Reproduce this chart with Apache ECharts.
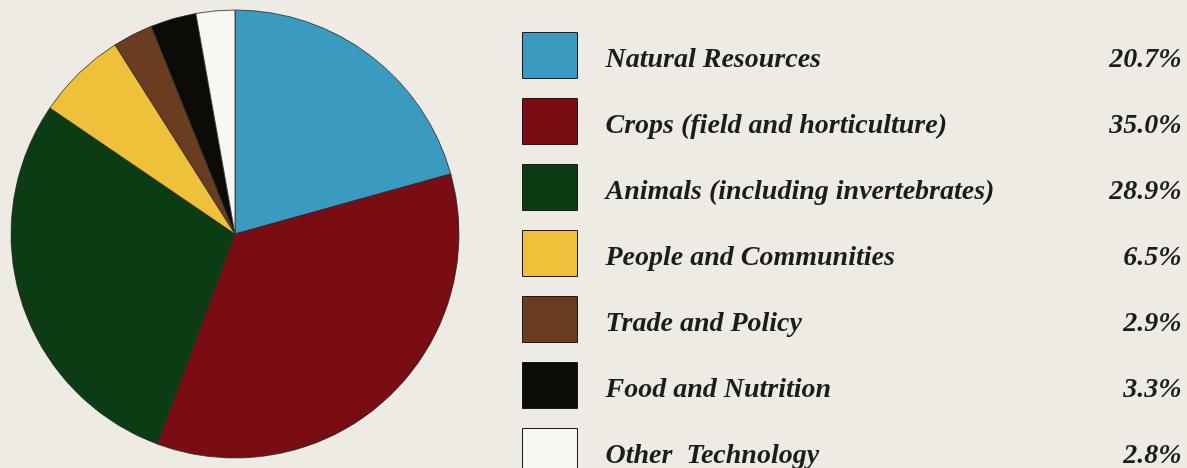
<!DOCTYPE html>
<html style="height: 100%">
<head>
	<meta charset="utf-8">
</head>
<body style="height: 100%; margin: 0; background-color: #eeebe4;">
<div id="container" style="width: 1187px; height: 468px"></div>
<script type="text/javascript" src="https://cdn.jsdelivr.net/npm/echarts@6/dist/echarts.min.js"></script>
<script type="text/javascript">
	var categories = ['Natural Resources', 'Crops (field and horticulture)', 'Animals (including invertebrates)',
		'People and Communities', 'Trade and Policy', 'Food and Nutrition', 'Other  Technology'];
	var shares = [20.7, 35.0, 28.9, 6.5, 2.9, 3.3, 2.8];
	var colors = ['#3a9abf', '#7a0d14', '#0c3c13', '#efc03a', '#6a3d20', '#0d0b08', '#f8f7f3'];

	var dom = document.getElementById('container');
	var myChart = echarts.init(dom);

	var font = {
		fontFamily: 'Liberation Serif',
		fontStyle: 'italic',
		fontWeight: 'bold',
		fontSize: 28,
		color: '#1c1c1c'
	};

	var option = {
		backgroundColor: '#eeebe4',
		animation: false,
		legend: {
			orient: 'vertical',
			left: 522,
			top: 32,
			height: 700,
			padding: 0,
			icon: 'rect',
			itemWidth: 55,
			itemHeight: 46,
			itemGap: 19,
			selectedMode: false,
			itemStyle: {
				borderColor: '#1a1a1a',
				borderWidth: 1
			},
			formatter: function(name) {
				var i = categories.indexOf(name);
				return '{n|' + name + '}{v|' + shares[i].toFixed(1) + '%}';
			},
			textStyle: Object.assign({}, font, {
				rich: {
					n: Object.assign({ width: 496, padding: [8, 0, 0, 23] }, font),
					v: Object.assign({ width: 80, align: 'right', padding: [8, 0, 0, 0] }, font)
				}
			}),
			data: categories
		},
		series: [{
			type: 'pie',
			center: [235, 234],
			radius: 224,
			startAngle: 90,
			clockwise: true,
			label: { show: false },
			labelLine: { show: false },
			emphasis: { disabled: true },
			itemStyle: {
				borderColor: '#2a2a2a',
				borderWidth: 0.8
			},
			data: categories.map(function(name, i) {
				return { name: name, value: shares[i], itemStyle: { color: colors[i] } };
			})
		}]
	};
	myChart.setOption(option);
</script>
</body>
</html>
